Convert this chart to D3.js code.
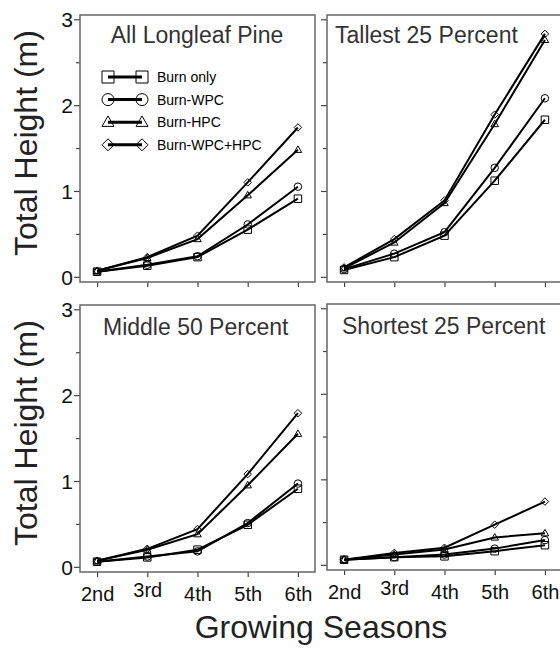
<!DOCTYPE html>
<html>
<head>
<meta charset="utf-8">
<script src="https://cdn.jsdelivr.net/npm/d3@7"></script>
<style>
body { margin: 0; background: #fff; }
text { font-family: "Liberation Sans", Arial, sans-serif; }
</style>
</head>
<body>
<div id="chart"></div>
<script>
var seasons = ["2nd", "3rd", "4th", "5th", "6th"];
var treatments = ["Burn only", "Burn-WPC", "Burn-HPC", "Burn-WPC+HPC"];
var shapes = ["square", "circle", "triangle", "diamond"];
var yTicks = [0, 1, 2, 3];
var yMinor = [0.5, 1.5, 2.5];

// one row per treatment, same order as treatments
var allPine = [
    [0.06, 0.13, 0.23, 0.55, 0.91],
    [0.06, 0.14, 0.24, 0.61, 1.05],
    [0.07, 0.22, 0.44, 0.95, 1.48],
    [0.07, 0.23, 0.48, 1.10, 1.74]
];
var tallest = [
    [0.08, 0.23, 0.48, 1.12, 1.83],
    [0.09, 0.27, 0.52, 1.27, 2.08],
    [0.10, 0.40, 0.86, 1.78, 2.76],
    [0.11, 0.44, 0.89, 1.89, 2.83]
];
var middle = [
    [0.06, 0.11, 0.20, 0.49, 0.91],
    [0.06, 0.12, 0.18, 0.51, 0.97],
    [0.07, 0.20, 0.38, 0.95, 1.55],
    [0.07, 0.21, 0.44, 1.08, 1.79]
];
var shortest = [
    [0.06, 0.09, 0.10, 0.16, 0.23],
    [0.06, 0.09, 0.12, 0.19, 0.29],
    [0.06, 0.12, 0.18, 0.32, 0.37],
    [0.06, 0.14, 0.20, 0.47, 0.74]
];

var width = 560,
    height = 648;

var svg = d3.select("#chart")
    .append("svg")
    .attr("width", width)
    .attr("height", height);

// marker path centred on 0,0
function shapePath(type, s) {
    var h = s / 2;
    if (type == "square") {
        return "M" + (-h) + "," + (-h) + "h" + s + "v" + s + "h" + (-s) + "Z";
    } else if (type == "circle") {
        return "M" + (-h) + ",0a" + h + "," + h + " 0 1,0 " + s + ",0a" + h + "," + h + " 0 1,0 " + (-s) + ",0Z";
    } else if (type == "triangle") {
        var th = s * 0.87;
        return "M0," + (-th * 0.6) + "L" + h + "," + (th * 0.4) + "L" + (-h) + "," + (th * 0.4) + "Z";
    } else {
        return "M0," + (-h) + "L" + h + ",0L0," + h + "L" + (-h) + ",0Z";
    }
}

var panels = [
    { title: "All Longleaf Pine", data: allPine, left: 80, right: 315, top: 15, bottom: 282, tx: 197, anchor: "middle", ty: 43, yLabels: true, xLabels: false },
    { title: "Tallest 25 Percent", data: tallest, left: 327, right: 562, top: 15, bottom: 282, tx: 335, anchor: "start", ty: 43, yLabels: false, xLabels: false },
    { title: "Middle 50 Percent", data: middle, left: 80, right: 315, top: 305, bottom: 572, tx: 103, anchor: "start", ty: 335, yLabels: true, xLabels: true },
    { title: "Shortest 25 Percent", data: shortest, left: 327, right: 562, top: 304, bottom: 570, tx: 342, anchor: "start", ty: 334, yLabels: false, xLabels: true }
];

panels.forEach(function (p) {
    var x = d3.scalePoint()
        .domain(seasons)
        .range([p.left, p.right])
        .padding(0.34);

    var y = d3.scaleLinear()
        .domain([-0.06, 3.05])
        .range([p.bottom, p.top]);

    var g = svg.append("g");

    // y ticks
    var yAxis = g.append("g")
        .attr("transform", "translate(" + p.left + ",0)")
        .call(d3.axisLeft(y).tickValues(yTicks).tickSize(6).tickPadding(1)
            .tickFormat(p.yLabels ? d3.format("d") : ""));
    yAxis.select(".domain").remove();
    yAxis.selectAll("line").attr("stroke", "#444").attr("stroke-width", 1.2);
    yAxis.selectAll("text")
        .style("font-size", "21px")
        .attr("fill", "#111")
        .attr("dy", "0.36em");

    var yMinorAxis = g.append("g")
        .attr("transform", "translate(" + p.left + ",0)")
        .call(d3.axisLeft(y).tickValues(yMinor).tickSize(4).tickFormat(""));
    yMinorAxis.select(".domain").remove();
    yMinorAxis.selectAll("line").attr("stroke", "#444").attr("stroke-width", 1.2);

    // x ticks
    var xAxis = g.append("g")
        .attr("transform", "translate(0," + p.bottom + ")")
        .call(d3.axisBottom(x).tickSize(5).tickPadding(10)
            .tickFormat(p.xLabels ? null : ""));
    xAxis.select(".domain").remove();
    xAxis.selectAll("line").attr("stroke", "#444").attr("stroke-width", 1.2);
    xAxis.selectAll("text")
        .style("font-size", "20px")
        .attr("fill", "#111")
        .attr("transform", function (d) {
            return d == "3rd" ? "translate(0,-4)" : null;
        });

    // frame
    g.append("rect")
        .attr("x", p.left)
        .attr("y", p.top)
        .attr("width", p.right - p.left)
        .attr("height", p.bottom - p.top)
        .attr("fill", "none")
        .attr("stroke", "#666")
        .attr("stroke-width", 1.5);

    g.append("text")
        .attr("x", p.tx)
        .attr("y", p.ty)
        .attr("text-anchor", p.anchor)
        .style("font-size", "23px")
        .attr("fill", "#333")
        .text(p.title);

    var line = d3.line()
        .x(function (d, i) { return x(seasons[i]); })
        .y(function (d) { return y(d); });

    p.data.forEach(function (vals, k) {
        g.append("path")
            .datum(vals)
            .attr("d", line)
            .attr("fill", "none")
            .attr("stroke", "#000")
            .attr("stroke-width", 2);

        g.selectAll(null)
            .data(vals)
            .enter()
            .append("path")
            .attr("transform", function (d, i) {
                return "translate(" + x(seasons[i]) + "," + y(d) + ")";
            })
            .attr("d", shapePath(shapes[k], 7.5))
            .attr("fill", "none")
            .attr("stroke", "#000")
            .attr("stroke-width", 1);
    });
});

// legend in first panel
var legend = svg.append("g");
treatments.forEach(function (t, k) {
    var ly = 77 + k * 22.6;
    legend.append("path")
        .attr("d", "M108," + ly + "H142")
        .attr("stroke", "#000")
        .attr("stroke-width", 3);
    [108, 142].forEach(function (lx) {
        legend.append("path")
            .attr("transform", "translate(" + lx + "," + ly + ")")
            .attr("d", shapePath(shapes[k], 12))
            .attr("fill", "none")
            .attr("stroke", "#000")
            .attr("stroke-width", 1);
    });
    legend.append("text")
        .attr("x", 157)
        .attr("y", ly)
        .attr("dy", "0.36em")
        .style("font-size", "14px")
        .attr("fill", "#000")
        .text(t);
});

// axis titles
[143, 433].forEach(function (cy) {
    svg.append("text")
        .attr("transform", "translate(37," + cy + ") rotate(-90)")
        .attr("text-anchor", "middle")
        .style("font-size", "32px")
        .attr("fill", "#222")
        .text("Total Height (m)");
});

svg.append("text")
    .attr("x", 321)
    .attr("y", 638)
    .attr("text-anchor", "middle")
    .style("font-size", "32px")
    .attr("fill", "#222")
    .text("Growing Seasons");
</script>
</body>
</html>
